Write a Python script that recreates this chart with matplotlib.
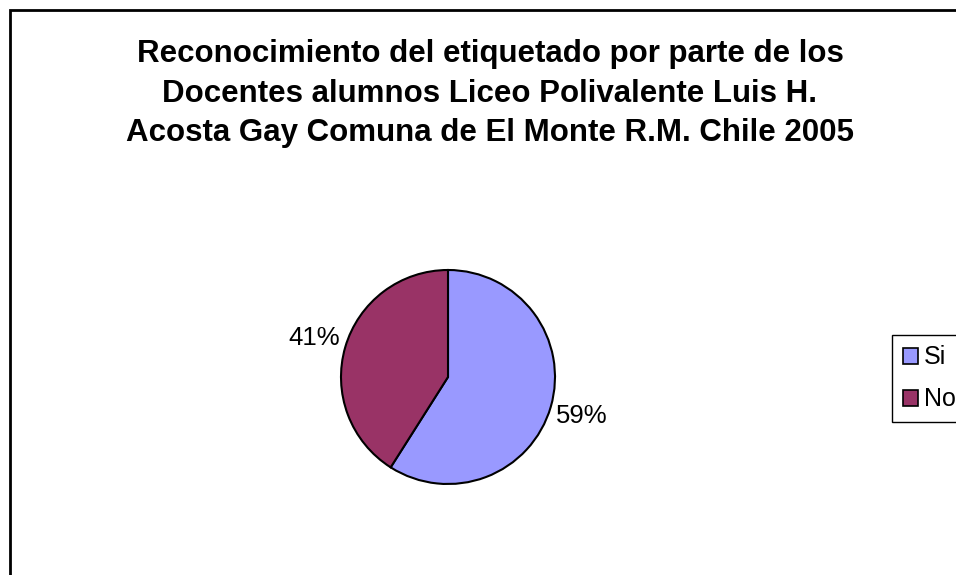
import matplotlib.pyplot as plt
from matplotlib.patches import Patch, Rectangle

categorias = ["Si", "No"]
valores = [59, 41]
colores = ["#9999FF", "#993366"]
titulo = ("Reconocimiento del etiquetado por parte de los\n"
          "Docentes alumnos Liceo Polivalente Luis H.\n"
          "Acosta Gay Comuna de El Monte R.M. Chile 2005")

plt.rcParams['font.family'] = ['Liberation Sans', 'DejaVu Sans']

fig = plt.figure(figsize=(9.56, 5.75), dpi=100)

# marco del grafico (sale por la derecha y por abajo)
fig.patches.append(Rectangle((10 / 956, -0.1), 1.1, 1 - 10 / 575 + 0.1,
                             transform=fig.transFigure, fill=False,
                             edgecolor="black", linewidth=2))

fig.text(490 / 956, 1 - 39 / 575, titulo, ha="center", va="top",
         fontsize=22.5, fontweight="bold", linespacing=1.42)

ax = fig.add_axes([341 / 956, 91 / 575, 214 / 956, 214 / 575])
ax.pie(valores, colors=colores, startangle=90, counterclock=False,
       autopct="%1.0f%%", pctdistance=1.3,
       wedgeprops=dict(edgecolor="black", linewidth=1.5),
       textprops=dict(fontsize=18.5))
ax.set_xlim(-1, 1)
ax.set_ylim(-1, 1)
ax.set_aspect("equal")

handles = [Patch(facecolor=c, edgecolor="black", linewidth=1.2) for c in colores]
leg = fig.legend(handles, categorias, loc="upper left",
                 bbox_to_anchor=(892 / 956, 1 - 335 / 575), fontsize=18,
                 frameon=True, fancybox=False, edgecolor="black",
                 framealpha=1, handlelength=0.62, handleheight=0.62,
                 handletextpad=0.25, borderpad=0.42, labelspacing=0.72,
                 borderaxespad=0)
leg.get_frame().set_linewidth(1)

fig.savefig("out.png", dpi=100)
